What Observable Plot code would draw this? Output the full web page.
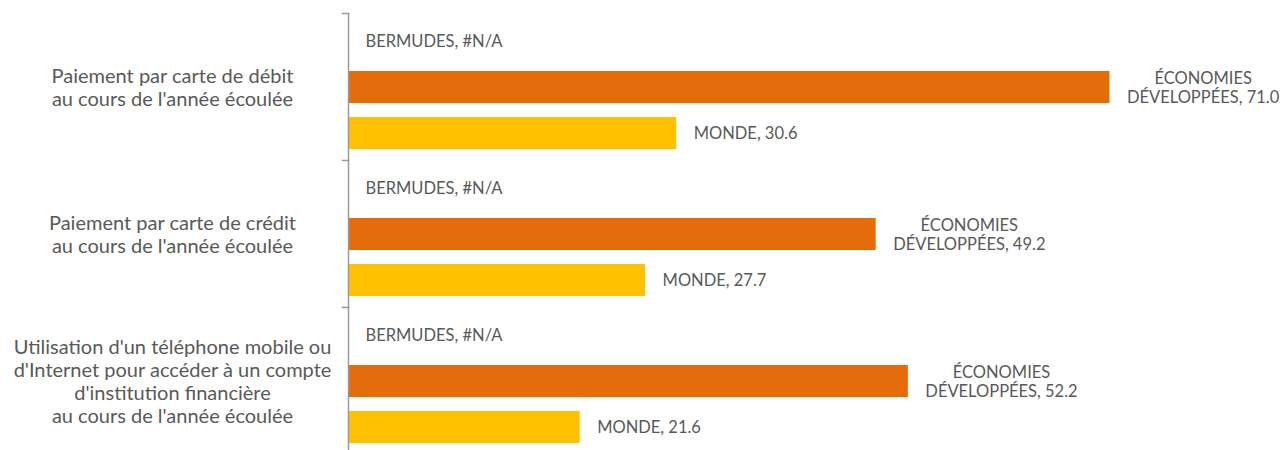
<!DOCTYPE html>
<html>
<head>
<meta charset="utf-8">
<script src="https://cdn.jsdelivr.net/npm/d3@7"></script>
<script src="https://cdn.jsdelivr.net/npm/@observablehq/plot@0.6"></script>
<style>
  html, body { margin: 0; padding: 0; background: #ffffff; }
  #chart svg { display: block; }
</style>
</head>
<body>
<div id="chart"></div>
<script>
const categories = [
  "Paiement par carte de débit\nau cours de l'année écoulée",
  "Paiement par carte de crédit\nau cours de l'année écoulée",
  "Utilisation d'un téléphone mobile ou\nd'Internet pour accéder à un compte\nd'institution financière\nau cours de l'année écoulée"
];
const series = ["BERMUDES", "ÉCONOMIES DÉVELOPPÉES", "MONDE"];
const seriesLabels = ["BERMUDES", "ÉCONOMIES\nDÉVELOPPÉES", "MONDE"];
const bermudes = [null, null, null];
const economiesDeveloppees = [71.0, 49.2, 52.2];
const monde = [30.6, 27.7, 21.6];
const colors = ["#ffffff", "#E46C0A", "#FFC000"];

const valuesBySeries = [bermudes, economiesDeveloppees, monde];
const rows = [];
categories.forEach((c, i) => {
  series.forEach((s, j) => {
    const v = valuesBySeries[j][i];
    rows.push({
      category: c,
      series: s,
      value: v,
      label: seriesLabels[j] + ", " + (v == null ? "#N/A" : v.toFixed(1))
    });
  });
});

const font = "Lato, 'Open Sans', sans-serif";
const textColor = "#595959";
const dataFontSize = 16.5;
const catFontSize = 20;

// measure width of the widest line of the two-line labels to centre lines within the label box
const ctx = document.createElement("canvas").getContext("2d");
ctx.font = `${dataFontSize}px Lato`;
const twoLine = rows.filter(d => d.series === series[1]);
const halfBox = d3.max(twoLine, d => d3.max(d.label.split("\n"), l => ctx.measureText(l).width)) / 2;

const W = 1286, H = 450, ML = 348, MR = 80;

const chart = Plot.plot({
  width: W,
  height: H,
  marginLeft: ML,
  marginRight: MR,
  marginTop: 12,
  marginBottom: -4,
  style: {fontFamily: font, color: textColor, background: "#ffffff"},
  x: {domain: [0, 80], axis: null},
  y: {domain: series, axis: null, paddingInner: 0.315, paddingOuter: 0.245},
  fy: {domain: categories, axis: null, padding: 0},
  color: {domain: series, range: colors},
  marks: [
    Plot.barX(rows.filter(d => d.value != null), {x: "value", y: "series", fy: "category", fill: "series"}),
    Plot.ruleX([0], {stroke: "#9a9a9a", strokeWidth: 1.5}),
    Plot.frame({anchor: "top", stroke: "#9a9a9a", strokeWidth: 1.5, insetLeft: -6, insetRight: W - ML - MR}),
    Plot.text(rows.filter(d => d.series !== series[1]), {
      x: d => d.value ?? 0, y: "series", fy: "category", text: "label",
      textAnchor: "start", dx: 17, fill: textColor, fontSize: dataFontSize
    }),
    Plot.text(twoLine, {
      x: "value", y: "series", fy: "category", text: "label",
      textAnchor: "middle", dx: 17 + halfBox, fill: textColor, fontSize: dataFontSize, lineHeight: 1.15
    }),
    Plot.text(categories, {
      fy: d => d, text: d => d, frameAnchor: "left", textAnchor: "middle",
      dx: -176, fill: textColor, fontSize: catFontSize, lineHeight: 1.15
    })
  ]
});
document.getElementById("chart").appendChild(chart);
</script>
</body>
</html>
